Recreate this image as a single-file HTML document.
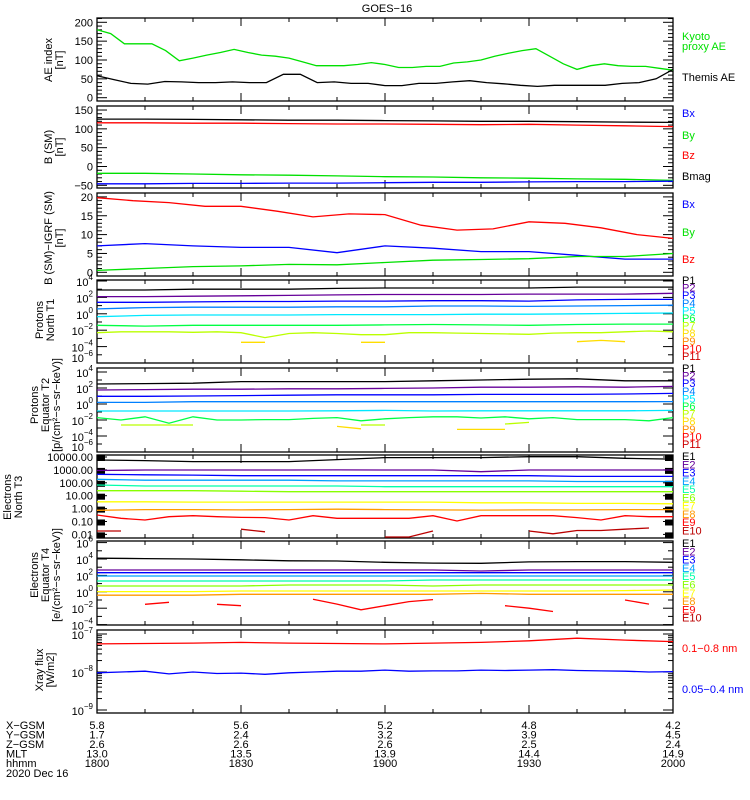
<!DOCTYPE html>
<html><head><meta charset="utf-8">
<style>
html,body{margin:0;padding:0;background:#fff;}
svg{display:block;font-family:"Liberation Sans",sans-serif;}
text{font-size:11px;}
</style></head>
<body>
<svg id="chart" width="750" height="800" viewBox="0 0 750 800">
<rect width="750" height="800" fill="#fff"/>
<text x="387" y="12" text-anchor="middle" font-size="12">GOES−16</text>
</svg>
<script>
// ---- time axis data ----
const times13 = [0,10,20,30,40,50,60,70,80,90,100,110,120];
const times25 = [0,5,10,15,20,25,30,35,40,45,50,55,60,65,70,75,80,85,90,95,100,105,110,115,120];
const xTickLabels = ['1800','1830','1900','1930','2000'];
const xGsm = ['5.8','5.6','5.2','4.8','4.2'];
const yGsm = ['1.7','2.4','3.2','3.9','4.5'];
const zGsm = ['2.6','2.6','2.6','2.5','2.4'];
const mltVals = ['13.0','13.5','13.9','14.4','14.9'];

// ---- panel 1 AE ----
const kyotoAE = [180,170,143,143,143,125,98,105,113,120,128,120,113,110,105,95,85,85,85,88,93,88,80,80,83,83,92,95,100,110,118,125,130,110,90,75,85,90,85,83,83,78,73];
const themisAE = [58,48,38,36,43,42,40,40,42,40,40,62,62,40,42,38,38,32,32,38,38,42,45,40,37,33,30,33,33,33,33,38,40,50,75];
// ---- panel 2 B (SM) ----
const bmag2 = [126,126,125,124,123,123,122,121,120,120,119,118,117];
const bz2 = [116,116,115,115,114,113,113,112,111,112,110,108,106];
const by2 = [-18,-18,-20,-22,-23,-25,-27,-28,-30,-31,-33,-34,-37];
const bx2 = [-46,-46,-45,-45,-44,-44,-43,-42,-42,-41,-40,-40,-39];
// ---- panel 3 B - IGRF ----
const bz3 = [19.8,19,18.5,17.5,17.5,16.2,14.7,15.5,15.3,12.5,11.2,11.5,13.4,13,11.8,10,9];
const bx3 = [7,7.6,7,6.6,6.6,5.2,7,6.4,5.5,5.5,4.5,3.5,3.5];
const by3 = [0.5,1,1.5,1.7,2.1,2,2.6,3.2,3.4,3.6,4.2,4.2,5];
// ---- panel 4 Protons North T1 (log10 values) ----
const pN1 = [2.9,2.9,3.0,3.0,3.0,3.1,3.15,3.15,3.15,3.15,3.25,3.25,3.25];
const pN2 = [2.1,2.1,2.15,2.2,2.25,2.3,2.35,2.35,2.35,2.4,2.4,2.4,2.5];
const pN3 = [1.4,1.4,1.45,1.5,1.5,1.55,1.55,1.6,1.6,1.55,1.7,1.75,1.75];
const pN4 = [0.6,0.75,0.8,0.8,0.8,0.85,0.85,0.95,0.95,0.9,0.95,1.0,1.05];
const pN5 = [-0.35,-0.2,-0.15,-0.15,-0.15,-0.1,-0.1,-0.1,-0.05,-0.05,0,0.05,0.1];
const pN6 = [-1.4,-1.5,-1.4,-1.4,-1.4,-1.4,-1.35,-1.3,-1.35,-1.4,-1.3,-1.25,-1.25];
const pN7 = [-2.3,-2.2,-2.2,-2.2,-2.25,-2.2,-2.3,-2.9,-2.4,-2.3,-2.4,-2.55,-2.55,-2.3,-2.3,-2.35,-2.4,-2.45,-2.5,-2.35,-2.3,-2.3,-2.2,-2.1,-2.2];
const pN8 = [null,null,null,null,null,null,-3.48,-3.48,null,null,null,-3.48,-3.48,null,null,null,null,null,null,null,-3.4,-3.25,-3.4,null,null];
// ---- panel 5 Protons Equator T2 ----
const pE1 = [2.5,2.55,2.6,2.8,2.8,2.8,2.8,2.9,3.0,3.1,3.15,2.9,2.9];
const pE2 = [1.75,1.8,1.85,1.85,1.9,1.9,1.95,2.0,2.1,2.1,2.15,2.1,2.2];
const pE3 = [0.96,0.96,1.0,1.05,1.1,1.15,1.15,1.15,1.2,1.2,1.2,1.25,1.33];
const pE4 = [0.2,0.2,0.29,0.29,0.29,0.29,0.29,0.29,0.29,0.29,0.29,0.29,0.3];
const pE5 = [-0.88,-0.88,-0.88,-0.88,-0.88,-0.85,-0.8,-0.88,-0.85,-0.85,-0.85,-0.85,-0.8];
const pE6 = [-1.7,-2.0,-1.6,-2.4,-1.6,-2.0,-2.0,-1.95,-1.95,-1.8,-1.7,-2.1,-1.85,-1.7,-1.6,-1.6,-1.75,-1.6,-1.85,-1.7,-1.95,-1.95,-1.95,-2.1,-1.7];
const pE7 = [null,-2.62,-2.62,-2.62,-2.62,null,null,null,null,null,null,-2.62,-2.62,null,null,null,null,-2.5,-2.3,null,null,null,null,null,null];
const pE8 = [null,null,null,null,null,null,null,null,null,null,-2.8,-3.1,null,null,null,-3.17,-3.17,-3.17,null,null,null,null,null,null,null];
// ---- panel 6 Electrons North T3 ----
const eN1 = [3.77,3.72,3.64,3.64,3.64,3.8,3.95,3.95,3.95,4.02,4.02,3.9,3.84];
const eN2 = [2.95,2.99,2.99,2.99,2.99,3.0,2.99,2.99,2.86,2.99,2.99,2.99,2.99];
const eN3 = [2.66,2.62,2.6,2.55,2.55,2.55,2.55,2.55,2.55,2.55,2.5,2.5,2.5];
const eN4 = [2.27,2.2,2.2,2.2,2.2,2.15,2.15,2.15,2.15,2.15,2.1,2.1,2.1];
const eN5 = [1.83,1.75,1.75,1.75,1.75,1.75,1.7,1.7,1.7,1.7,1.7,1.7,1.7];
const eN6 = [1.39,1.39,1.39,1.35,1.31,1.31,1.31,1.31,1.31,1.31,1.31,1.31,1.31];
const eN7 = [0.53,0.53,0.5,0.5,0.5,0.5,0.5,0.5,0.45,0.45,0.4,0.4,0.37];
const eN8 = [-0.13,-0.08,-0.08,-0.1,-0.08,-0.05,-0.08,-0.1,-0.12,-0.1,-0.1,-0.08,-0.08];
const eN9 = [-0.5,-0.75,-0.88,-0.63,-0.55,-0.63,-0.68,-0.7,-0.88,-0.55,-0.75,-0.75,-0.75,-0.75,-0.55,-0.96,-0.55,-0.55,-0.55,-0.55,-0.7,-0.88,-0.55,-0.63,-0.63];
const eN10 = [-1.74,-1.74,null,null,null,null,-1.6,-1.8,null,null,null,null,-2.2,-2.2,-1.74,null,null,null,-1.74,-1.95,-1.7,-1.7,-1.6,-1.5,null];
// ---- panel 7 Electrons Equator T4 ----
const eE1 = [4.1,4.05,4.0,3.9,3.78,3.75,3.6,3.5,3.48,3.65,3.68,3.68,3.6];
const eE2 = [2.66,2.66,2.66,2.66,2.66,2.66,2.66,2.66,2.54,2.66,2.66,2.66,2.66];
const eE3 = [2.33,2.33,2.33,2.33,2.33,2.33,2.33,2.33,2.33,2.33,2.33,2.33,2.33];
const eE4 = [1.93,1.93,1.93,1.93,1.93,1.93,1.93,1.93,1.93,1.93,1.93,1.93,1.93];
const eE5 = [1.32,1.32,1.32,1.32,1.32,1.32,1.32,1.44,1.44,1.44,1.44,1.44,1.44];
const eE6 = [0.71,0.71,0.71,0.71,0.83,0.83,0.83,0.71,0.83,0.83,0.83,0.83,0.83];
const eE7 = [0.02,0.02,0.02,0.1,0.1,0.1,0.1,0.1,0.1,0.1,0.1,0.15,0.22];
const eE8 = [-0.42,-0.42,-0.42,-0.3,-0.3,-0.3,-0.3,-0.3,-0.2,-0.3,-0.3,-0.3,-0.3];
const eE9 = [null,null,-1.52,-1.28,null,-1.52,-1.7,null,null,-0.91,-1.5,-2.2,-1.7,-1.2,-0.95,null,null,-1.7,-2.0,-2.4,null,null,-1.0,-1.5,null];
// ---- panel 8 X-ray ----
const xrayLong = [-7.26,-7.25,-7.24,-7.22,-7.24,-7.25,-7.26,-7.24,-7.22,-7.18,-7.11,-7.16,-7.2];
const xrayShort = [-8.02,-8.0,-7.98,-8.05,-8.0,-8.04,-8.03,-8.06,-8.02,-8.0,-7.98,-7.98,-7.95,-7.98,-7.97,-7.97,-7.95,-7.96,-7.95,-7.94,-7.96,-7.97,-7.98,-8.0,-7.99];

const NS='http://www.w3.org/2000/svg';
const svg=document.getElementById('chart');
const X0=97, X1=673;
function xs(t){return X0+(t/120)*(X1-X0);}
function mk(tag,attrs,parent){const el=document.createElementNS(NS,tag);for(const k in attrs)el.setAttribute(k,attrs[k]);(parent||svg).appendChild(el);return el;}
function txt(x,y,s,attrs,name){const el=mk('text',Object.assign({x:x,y:y},attrs||{}));el.textContent=s;


return el;}
function spread(n){const a=[];for(let i=0;i<n;i++)a.push(i*120/(n-1));return a;}
function series(vals,yf,color,name){
  const ts=vals.length===13?times13:(vals.length===25?times25:spread(vals.length));
  let d='',pen=false;
  vals.forEach((v,i)=>{if(v===null||v===undefined){pen=false;return;}d+=(pen?'L':'M')+xs(ts[i]).toFixed(1)+' '+yf(v).toFixed(1);pen=true;});
  const p=mk('path',{d:d,fill:'none',stroke:color,'stroke-width':1.3});
  
  
}
function frame(top,bot,name){
  const g=mk('g',{});
  
  
  mk('rect',{x:X0,y:top,width:X1-X0,height:bot-top,fill:'none',stroke:'#000','stroke-width':1.3},g);
  for(let t=0;t<=120;t+=10){const maj=t%30===0;const L=maj?8:4;const x=xs(t);
    mk('line',{x1:x,y1:bot,x2:x,y2:bot-L,stroke:'#000'},g);mk('line',{x1:x,y1:top,x2:x,y2:top+L,stroke:'#000'},g);}
  return g;
}
function ytick(g,y,maj){const L=maj?10:5;mk('line',{x1:X0,y1:y,x2:X0+L,y2:y,stroke:'#000'},g);mk('line',{x1:X1,y1:y,x2:X1-L,y2:y,stroke:'#000'},g);}
function ylabel(y,s,name){txt(93,y+4,s,{'text-anchor':'end','font-size':'12'},name);}
function ylabelPow(y,e,name){const el=mk('text',{x:93,y:y+5,'text-anchor':'end','font-size':'12'});
  
  
  el.innerHTML='10<tspan dy="-6" font-size="8">'+e+'</tspan>';}
function ytitle(cx,cy,lines,name){const g=mk('g',{transform:'translate('+cx+','+cy+') rotate(-90)'});
  
  
  lines.forEach((s,i)=>{const t=mk('text',{x:0,y:i*11,'text-anchor':'middle','font-size':'11.5'},g);t.textContent=s;});}
function rlabel(y,s,color,name,fs){txt(682,y+4,s,{fill:color,'font-size':fs||'11'},name);}
const pCols=['#000000','#660099','#0000ff','#0080ff','#00e8ff','#00ff44','#bbff00','#ffdd00','#ff8800','#ff0000','#cc0000'];
const eCols=['#000000','#660099','#0000ff','#00a0ff','#00ffaa','#88ff00','#ffff00','#ff9900','#ff0000','#bb0000'];

// Panel 1
{const top=18,bot=101;const yf=v=>97.7-v*0.377;const g=frame(top,bot,'ae-panel');
 for(let v=0;v<=210;v+=10)ytick(g,yf(v),v%50===0);
 [0,50,100,150,200].forEach(v=>ylabel(yf(v),String(v),'ae-y-tick-label'));
 series(kyotoAE,yf,'#00e000','kyoto-ae-line');series(themisAE,yf,'#000','themis-ae-line');
 ytitle(52,60,['AE index','[nT]'],'ae-y-axis-title');
 rlabel(36,'Kyoto','#00e000','legend-kyoto');rlabel(46,'proxy AE','#00e000','legend-proxy-ae');rlabel(77,'Themis AE','#000','legend-themis-ae');}
// Panel 2
{const top=106,bot=188;const yf=v=>166.5-v*0.3765;const g=frame(top,bot,'b-sm-panel');
 for(let v=-50;v<=150;v+=10)ytick(g,yf(v),v%50===0);
 [-50,0,50,100,150].forEach(v=>ylabel(yf(v),v<0?'−'+(-v):String(v),'b-sm-y-tick-label'));
 series(bmag2,yf,'#000','bmag-line');series(bz2,yf,'#ff0000','bz-line');series(by2,yf,'#00e000','by-line');series(bx2,yf,'#0000ff','bx-line');
 ytitle(52,147,['B (SM)','[nT]'],'b-sm-y-axis-title');
 rlabel(113,'Bx','#0000ff','legend-bx');rlabel(135,'By','#00e000','legend-by');rlabel(155,'Bz','#ff0000','legend-bz');rlabel(176,'Bmag','#000','legend-bmag');}
// Panel 3
{const top=193,bot=276;const yf=v=>272.3-v*3.77;const g=frame(top,bot,'b-igrf-panel');
 for(let v=0;v<=20;v+=1)ytick(g,yf(v),v%5===0);
 [0,5,10,15,20].forEach(v=>ylabel(yf(v),String(v),'b-igrf-y-tick-label'));
 series(bz3,yf,'#ff0000','dbz-line');series(bx3,yf,'#0000ff','dbx-line');series(by3,yf,'#00e000','dby-line');
 ytitle(52,238,['B (SM)−IGRF (SM)','[nT]'],'b-igrf-y-axis-title');
 rlabel(204,'Bx','#0000ff','legend-dbx');rlabel(232,'By','#00e000','legend-dby');rlabel(259,'Bz','#ff0000','legend-dbz');}
// Panel 4
{const top=280,bot=363;const yf=v=>281+(4-v)*8.2;const g=frame(top,bot,'protons-north-panel');
 for(let e=-6;e<=4;e++)ytick(g,yf(e),e%2===0);
 [4,2,0,-2,-4,-6].forEach(e=>ylabelPow(Math.min(yf(e),357),e<0?'−'+(-e):e,'protons-north-y-tick-label'));
 [pN1,pN2,pN3,pN4,pN5,pN6,pN7,pN8].forEach((s,i)=>series(s,yf,pCols[i],'protons-north-p'+(i+1)));
 ytitle(43,320,['Protons','North T1'],'protons-north-y-axis-title');
 pCols.forEach((c,i)=>rlabel(280+i*7.6,'P'+(i+1),c,'legend-pn-p'+(i+1),'9.5'));}
// Panel 5
{const top=368,bot=452;const yf=v=>372+(4-v)*8;const g=frame(top,bot,'protons-equator-panel');
 for(let e=-6;e<=4;e++)ytick(g,yf(e),e%2===0);
 [4,2,0,-2,-4,-6].forEach(e=>ylabelPow(Math.min(yf(e),446),e<0?'−'+(-e):e,'protons-equator-y-tick-label'));
 [pE1,pE2,pE3,pE4,pE5,pE6,pE7,pE8].forEach((s,i)=>series(s,yf,pCols[i],'protons-equator-p'+(i+1)));
 ytitle(38,405,['Protons','Equator T2','[p/(cm²−s−sr−keV)]'],'protons-equator-y-axis-title');
 pCols.forEach((c,i)=>rlabel(368+i*7.6,'P'+(i+1),c,'legend-pe-p'+(i+1),'9.5'));}
// Panel 6
{const top=455,bot=538;const yf=v=>457+(4-v)*12.9;const g=frame(top,bot,'electrons-north-panel');
 for(let e=-2;e<=4;e++){ytick(g,yf(e),true);
   mk('rect',{x:X0,y:yf(e)-2,width:8,height:6,fill:'#000'},g);mk('rect',{x:X1-8,y:yf(e)-2,width:8,height:6,fill:'#000'},g);}
 ['10000.00','1000.00','100.00','10.00','1.00','0.10','0.01'].forEach((s,i)=>ylabel(yf(4-i),s,'electrons-north-y-tick-label'));
 [eN1,eN2,eN3,eN4,eN5,eN6,eN7,eN8,eN9,eN10].forEach((s,i)=>series(s,yf,eCols[i],'electrons-north-e'+(i+1)));
 ytitle(11,497,['Electrons','North T3'],'electrons-north-y-axis-title');
 eCols.forEach((c,i)=>rlabel(456+i*8.25,'E'+(i+1),c,'legend-en-e'+(i+1),'9.5'));}
// Panel 7
{const top=541,bot=625;const yf=v=>559+(4-v)*8.2;const g=frame(top,bot,'electrons-equator-panel');
 for(let e=-4;e<=6;e++)ytick(g,yf(e),e%2===0);
 [6,4,2,0,-2,-4].forEach(e=>ylabelPow(yf(e),e<0?'−'+(-e):e,'electrons-equator-y-tick-label'));
 [eE1,eE2,eE3,eE4,eE5,eE6,eE7,eE8,eE9].forEach((s,i)=>series(s,yf,eCols[i],'electrons-equator-e'+(i+1)));
 ytitle(38,575,['Electrons','Equator T4','[e/(cm²−s−sr−keV)]'],'electrons-equator-y-axis-title');
 eCols.forEach((c,i)=>rlabel(543+i*8.3,'E'+(i+1),c,'legend-ee-e'+(i+1),'9.5'));}
// Panel 8
{const top=630,bot=713;const yf=v=>634+(-7-v)*38;const g=frame(top,bot,'xray-panel');
 for(let d=-9;d<-7;d++){for(let m=1;m<10;m++){const y=yf(d+Math.log10(m));ytick(g,y,m===1);}}
 ytick(g,yf(-7),true);
 [-7,-8,-9].forEach(e=>ylabelPow(yf(e),'−'+(-e),'xray-y-tick-label'));
 series(xrayLong,yf,'#ff0000','xray-long-line');series(xrayShort,yf,'#0000ff','xray-short-line');
 ytitle(43,670,['Xray flux','[W/m2]'],'xray-y-axis-title');
 rlabel(648,'0.1−0.8 nm','#ff0000','legend-xray-long');rlabel(689,'0.05−0.4 nm','#0000ff','legend-xray-short');}
// Bottom ephemeris table
{const rows=[['X−GSM',xGsm],['Y−GSM',yGsm],['Z−GSM',zGsm],['MLT',mltVals],['hhmm',xTickLabels]];
 rows.forEach((r,ri)=>{const y=729+ri*9.5;txt(6,y,r[0],{'font-size':'11.5'},'ephemeris-row-label');
   r[1].forEach((s,i)=>txt(xs(i*30),y,s,{'text-anchor':'middle','font-size':'11.5'},'ephemeris-value'));});
 txt(6,777,'2020 Dec 16',{'font-size':'11.5'},'date-label');}
</script>
</body></html>
